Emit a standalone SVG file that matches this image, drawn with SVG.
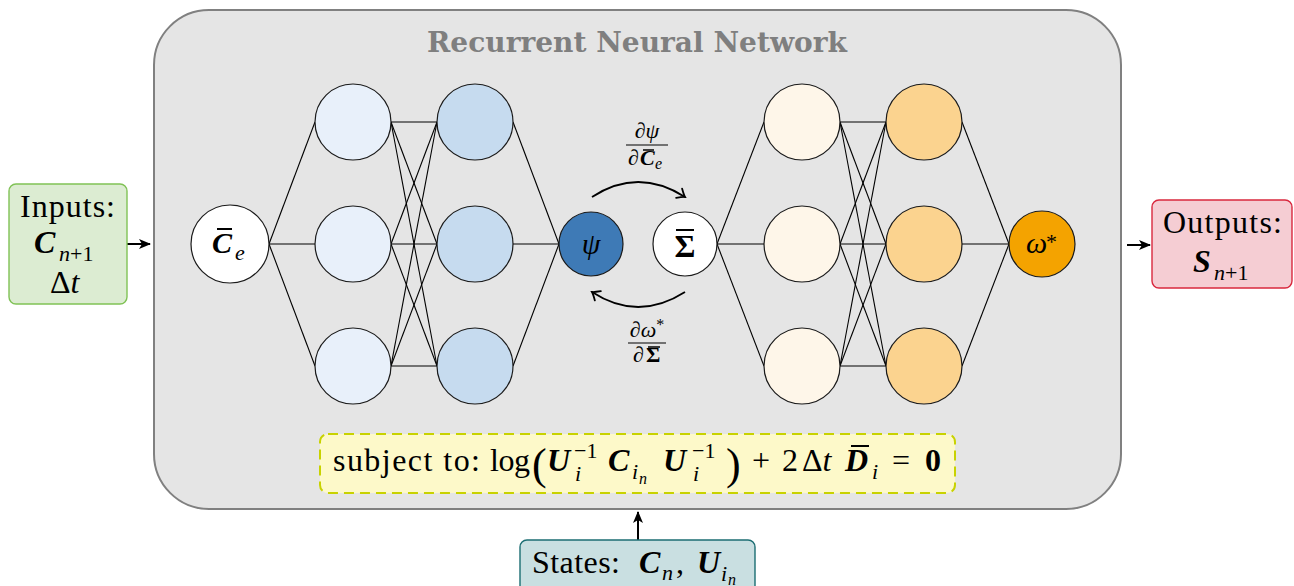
<svg xmlns="http://www.w3.org/2000/svg" width="1294" height="586" viewBox="0 0 1294 586" font-family="Liberation Serif, Tinos, Times New Roman, serif">
<style>
.t{font-size:32px;fill:#000}
.s{font-size:22px}
.ss{font-size:16px}
.bi{font-weight:bold;font-style:italic}
.it{font-style:italic}
.b{font-weight:bold}
.node{stroke:#1a1a1a;stroke-width:1.2}
.conn line{stroke:#000;stroke-width:1.1}
.bar{stroke:#000;stroke-width:2}
</style>
<defs>
<marker id="tri" viewBox="0 0 12 10" refX="11" refY="5" markerWidth="12" markerHeight="10" orient="auto" markerUnits="userSpaceOnUse"><path d="M0,0 L12,5 L0,10 L3,5 z" fill="#000"/></marker>
<marker id="hook" viewBox="-9 -7 11 14" refX="0" refY="0" markerWidth="11" markerHeight="14" orient="auto" markerUnits="userSpaceOnUse"><path d="M-7,-5.5 Q-2,-1 0,0 Q-2,1 -7,5.5" fill="none" stroke="#000" stroke-width="1.8" stroke-linecap="round"/></marker>
</defs>
<rect width="1294" height="586" fill="#fff"/>
<g id="rnn">
<rect x="154" y="10" width="967" height="499" rx="55" fill="#e5e5e5" stroke="#808080" stroke-width="2"/>
<text class="t b" x="637" y="52" text-anchor="middle" font-family="DejaVu Serif, serif" style="font-size:27px;fill:#7f7f7f" textLength="420" lengthAdjust="spacingAndGlyphs">Recurrent Neural Network</text>
</g>
<g class="conn" id="connectors">
<line x1="269" y1="244" x2="315" y2="122"/><line x1="269" y1="244" x2="315" y2="244"/><line x1="269" y1="244" x2="315" y2="366"/>
<line x1="391" y1="122" x2="437" y2="122"/><line x1="391" y1="122" x2="437" y2="244"/><line x1="391" y1="122" x2="437" y2="366"/>
<line x1="391" y1="244" x2="437" y2="122"/><line x1="391" y1="244" x2="437" y2="244"/><line x1="391" y1="244" x2="437" y2="366"/>
<line x1="391" y1="366" x2="437" y2="122"/><line x1="391" y1="366" x2="437" y2="244"/><line x1="391" y1="366" x2="437" y2="366"/>
<line x1="513" y1="122" x2="559" y2="244"/><line x1="513" y1="244" x2="559" y2="244"/><line x1="513" y1="366" x2="559" y2="244"/>
<line x1="717" y1="244" x2="764" y2="122"/><line x1="717" y1="244" x2="764" y2="244"/><line x1="717" y1="244" x2="764" y2="366"/>
<line x1="840" y1="122" x2="886" y2="122"/><line x1="840" y1="122" x2="886" y2="244"/><line x1="840" y1="122" x2="886" y2="366"/>
<line x1="840" y1="244" x2="886" y2="122"/><line x1="840" y1="244" x2="886" y2="244"/><line x1="840" y1="244" x2="886" y2="366"/>
<line x1="840" y1="366" x2="886" y2="122"/><line x1="840" y1="366" x2="886" y2="244"/><line x1="840" y1="366" x2="886" y2="366"/>
<line x1="962" y1="122" x2="1009" y2="244"/><line x1="962" y1="244" x2="1009" y2="244"/><line x1="962" y1="366" x2="1009" y2="244"/>
<path d="M592,197 Q638,167 685,197" fill="none" stroke="#000" stroke-width="1.8" marker-end="url(#hook)"/>
<path d="M685,292 Q638,322 592,292" fill="none" stroke="#000" stroke-width="1.8" marker-end="url(#hook)"/>
<line x1="127" y1="244" x2="150" y2="244" style="stroke-width:2" marker-end="url(#tri)"/>
<line x1="1127" y1="245" x2="1150" y2="245" style="stroke-width:2" marker-end="url(#tri)"/>
<line x1="638" y1="540" x2="638" y2="512" style="stroke-width:2" marker-end="url(#tri)"/>
</g>
<g id="node-Ce">
<circle class="node" cx="230" cy="244" r="39" fill="#fff"/>
<text class="t bi" x="212" y="253" style="font-size:30px">C</text><line class="bar" x1="217" y1="229" x2="232" y2="229"/><text class="t it" x="235" y="260" style="font-size:22px">e</text>
</g>
<g id="layer1" fill="#e8f0fa">
<circle class="node" cx="353" cy="122" r="38"/><circle class="node" cx="353" cy="244" r="38"/><circle class="node" cx="353" cy="366" r="38"/>
</g>
<g id="layer2" fill="#c6dbef">
<circle class="node" cx="475" cy="122" r="38"/><circle class="node" cx="475" cy="244" r="38"/><circle class="node" cx="475" cy="366" r="38"/>
</g>
<g id="node-psi">
<circle class="node" cx="591" cy="244" r="32" fill="#3e7ab6"/>
<text class="t it" x="591" y="254" text-anchor="middle" style="font-size:30px">ψ</text>
</g>
<g id="node-sigma">
<circle class="node" cx="685" cy="244" r="32" fill="#fff"/>
<text class="t b" x="685" y="257" text-anchor="middle">Σ</text><line class="bar" x1="676" y1="230" x2="694" y2="230"/>
</g>
<g id="layer3" fill="#fef6e9">
<circle class="node" cx="802" cy="122" r="38"/><circle class="node" cx="802" cy="244" r="38"/><circle class="node" cx="802" cy="366" r="38"/>
</g>
<g id="layer4" fill="#fbd38f">
<circle class="node" cx="924" cy="122" r="38"/><circle class="node" cx="924" cy="244" r="38"/><circle class="node" cx="924" cy="366" r="38"/>
</g>
<g id="node-omega">
<circle class="node" cx="1042" cy="244" r="33" fill="#f4a300"/>
<text class="t it" x="1026" y="253" style="font-size:30px">ω</text><text class="t s" x="1046" y="249">*</text>
</g>
<g id="label-top">
<text class="t s" x="647" y="138" text-anchor="middle">∂<tspan class="it">ψ</tspan></text>
<line x1="626" y1="145" x2="668" y2="145" stroke="#000" stroke-width="1.2"/>
<text class="t s" x="628" y="165">∂</text><text class="t s bi" x="640" y="165">C</text><line x1="643" y1="150" x2="654" y2="150" stroke="#000" stroke-width="1.5"/><text class="t it ss" x="655" y="169">e</text>
</g>
<g id="label-bottom">
<text class="t s" x="647" y="337" text-anchor="middle">∂<tspan class="it">ω</tspan><tspan dy="-7" style="font-size:16px">*</tspan></text>
<line x1="628" y1="343" x2="666" y2="343" stroke="#000" stroke-width="1.2"/>
<text class="t s" x="633" y="362">∂</text><text class="t s b" x="646" y="362">Σ</text><line x1="648" y1="347" x2="660" y2="347" stroke="#000" stroke-width="1.5"/>
</g>
<g id="inputs">
<rect x="9" y="184" width="118" height="120" rx="7" fill="#dcecd2" stroke="#80c256" stroke-width="1.4"/>
<text class="t" x="20" y="217" textLength="95">Inputs:</text>
<text class="t bi" x="34" y="253">C</text><text class="t s" x="59" y="261"><tspan class="it">n</tspan>+1</text>
<text class="t" x="50" y="293">Δ<tspan class="it">t</tspan></text>
</g>
<g id="outputs">
<rect x="1152" y="200" width="140" height="88" rx="7" fill="#f5cdd3" stroke="#d9283e" stroke-width="1.4"/>
<text class="t" x="1163" y="233" textLength="119">Outputs:</text>
<text class="t bi" x="1193" y="272">S</text><text class="t s" x="1214" y="280"><tspan class="it">n</tspan>+1</text>
</g>
<g id="constraint">
<rect x="320" y="434" width="635" height="59" rx="8" fill="#fdf9c9" stroke="#c8d200" stroke-width="2" stroke-dasharray="10 6"/>
<text class="t" x="333" y="471" textLength="147">subject to:</text>
<text class="t" x="490" y="471" textLength="40">log</text>
<text class="t" x="532" y="479" style="font-size:44px">(</text>
<text class="t bi" x="547" y="471">U</text><text class="t s" x="574" y="458">−1</text><text class="t s it" x="575" y="481">i</text>
<text class="t bi" x="608" y="471">C</text><text class="t s it" x="632" y="479">i</text><text class="t ss it" x="639" y="484">n</text>
<text class="t bi" x="663" y="471">U</text><text class="t s" x="692" y="458">−1</text><text class="t s it" x="693" y="481">i</text>
<text class="t" x="726" y="479" style="font-size:44px">)</text>
<text class="t" x="752" y="471">+</text>
<text class="t" x="782" y="471">2</text>
<text class="t" x="802" y="471">Δ<tspan class="it">t</tspan></text>
<text class="t bi" x="845" y="471">D</text><line class="bar" x1="851" y1="446" x2="869" y2="446"/><text class="t s it" x="872" y="479">i</text>
<text class="t" x="892" y="471">=</text>
<text class="t b" x="925" y="471">0</text>
</g>
<g id="states">
<rect x="520" y="540" width="235" height="60" rx="7" fill="#c9dfe1" stroke="#1c6e73" stroke-width="1.4"/>
<text class="t" x="532" y="573" textLength="88">States:</text>
<text class="t bi" x="639" y="573">C</text><text class="t s it" x="662" y="580">n</text><text class="t" x="676" y="573">,</text>
<text class="t bi" x="697" y="573">U</text><text class="t s it" x="721" y="581">i</text><text class="t ss it" x="728" y="585">n</text>
</g>
</svg>
